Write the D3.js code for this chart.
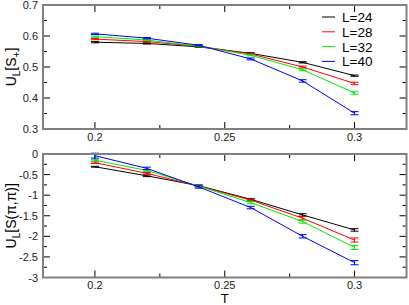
<!DOCTYPE html>
<html><head><meta charset="utf-8">
<script src="https://cdn.jsdelivr.net/npm/d3@7"></script>
<style>body{margin:0;background:#fff}svg{display:block}text{font-family:Arial,"Liberation Sans",sans-serif}</style>
</head><body><svg id="c" width="409" height="305"></svg>
<script>
const temps = [0.2, 0.22, 0.24, 0.26, 0.28, 0.3];
const seriesNames = ["L=24", "L=28", "L=32", "L=40"];
const seriesColors = ["#000000", "#ff0000", "#00ee00", "#0000ff"];
// top panel U_L[S_+]
const topVals = [
  [0.580, 0.576, 0.565, 0.544, 0.515, 0.472],
  [0.590, 0.582, 0.567, 0.542, 0.500, 0.447],
  [0.598, 0.587, 0.567, 0.538, 0.491, 0.416],
  [0.607, 0.593, 0.570, 0.526, 0.455, 0.351]
];
const topErr = [
  [0.002, 0.002, 0.002, 0.002, 0.002, 0.002],
  [0.002, 0.002, 0.002, 0.002, 0.003, 0.004],
  [0.002, 0.002, 0.002, 0.002, 0.003, 0.004],
  [0.002, 0.002, 0.002, 0.003, 0.004, 0.005]
];
// bottom panel U_L[S(pi,pi)]
const botVals = [
  [-0.31, -0.53, -0.77, -1.10, -1.48, -1.845],
  [-0.21, -0.47, -0.78, -1.12, -1.56, -2.09],
  [-0.15, -0.40, -0.78, -1.18, -1.64, -2.27],
  [-0.04, -0.35, -0.80, -1.30, -2.00, -2.64]
];
const botErr = [
  [0.01, 0.02, 0.02, 0.02, 0.03, 0.03],
  [0.02, 0.02, 0.02, 0.03, 0.04, 0.05],
  [0.02, 0.02, 0.02, 0.03, 0.04, 0.05],
  [0.06, 0.03, 0.03, 0.03, 0.04, 0.05]
];
const xMajor = [0.2, 0.25, 0.3];
const xMinor = [0.225, 0.275];
const topMajor = [0.3, 0.4, 0.5, 0.6, 0.7];
const topMinor = [0.35, 0.45, 0.55, 0.65];
const botMajor = [-3, -2.5, -2, -1.5, -1, -0.5, 0];
const botMinor = [-2.75, -2.25, -1.75, -1.25, -0.75, -0.25];

const svg = d3.select("#c");
const X0 = 43, X1 = 406.5;
const x = d3.scaleLinear().domain([0.18, 0.32]).range([X0, X1]);

function panel(y0, y1, ydom, vals, errs, major, minor, fmt, labelParts) {
  const y = d3.scaleLinear().domain(ydom).range([y1, y0]);
  const g = svg.append("g");
  const tk = g.append("g").attr("stroke", "#000").attr("stroke-width", 1);
  xMajor.forEach(t => {
    tk.append("line").attr("x1", x(t)).attr("x2", x(t)).attr("y1", y1).attr("y2", y1 - 7);
    tk.append("line").attr("x1", x(t)).attr("x2", x(t)).attr("y1", y0).attr("y2", y0 + 7);
  });
  xMinor.forEach(t => {
    tk.append("line").attr("x1", x(t)).attr("x2", x(t)).attr("y1", y1).attr("y2", y1 - 4);
    tk.append("line").attr("x1", x(t)).attr("x2", x(t)).attr("y1", y0).attr("y2", y0 + 4);
  });
  major.forEach(v => {
    tk.append("line").attr("x1", X0).attr("x2", X0 + 7).attr("y1", y(v)).attr("y2", y(v));
    tk.append("line").attr("x1", X1).attr("x2", X1 - 7).attr("y1", y(v)).attr("y2", y(v));
  });
  minor.forEach(v => {
    tk.append("line").attr("x1", X0).attr("x2", X0 + 4).attr("y1", y(v)).attr("y2", y(v));
    tk.append("line").attr("x1", X1).attr("x2", X1 - 4).attr("y1", y(v)).attr("y2", y(v));
  });
  vals.forEach((s, i) => {
    const c = seriesColors[i];
    g.append("path").datum(s.map((v, j) => [temps[j], v]))
      .attr("fill", "none").attr("stroke", c).attr("stroke-width", 1)
      .attr("d", d3.line().x(d => x(d[0])).y(d => y(d[1])));
    s.forEach((v, j) => {
      const e = errs[i][j], cx = x(temps[j]);
      const eb = g.append("g").attr("stroke", c).attr("stroke-width", 1);
      eb.append("line").attr("x1", cx).attr("x2", cx).attr("y1", y(v - e)).attr("y2", y(v + e));
      eb.append("line").attr("x1", cx - 4).attr("x2", cx + 4).attr("y1", y(v - e)).attr("y2", y(v - e));
      eb.append("line").attr("x1", cx - 4).attr("x2", cx + 4).attr("y1", y(v + e)).attr("y2", y(v + e));
    });
  });
  g.append("rect").attr("x", X0).attr("y", y0).attr("width", X1 - X0).attr("height", y1 - y0)
    .attr("fill", "none").attr("stroke", "#808080").attr("stroke-width", 2);
  major.forEach(v => {
    g.append("text").attr("x", 38).attr("y", y(v) + 4).attr("text-anchor", "end")
      .attr("font-size", 11).attr("fill", "#222").text(fmt(v));
  });
  xMajor.forEach(t => {
    g.append("text").attr("x", x(t)).attr("y", y1 + 11.5).attr("text-anchor", "middle")
      .attr("font-size", 11).attr("fill", "#222").text(String(t));
  });
  const lab = g.append("text").attr("transform", `translate(16,${(y0 + y1) / 2}) rotate(-90)`)
    .attr("text-anchor", "middle").attr("font-size", 14).attr("fill", "#000");
  labelParts.forEach(p => {
    const ts = lab.append("tspan").text(p.t);
    if (p.sub) ts.attr("font-size", 10).attr("dy", 4);
    if (p.up) ts.attr("dy", -4);
  });
  return y;
}

panel(5, 129, [0.3, 0.7], topVals, topErr, topMajor, topMinor, v => d3.format(".1f")(v),
  [{t: "U"}, {t: "L", sub: true}, {t: "[S", up: true}, {t: "+", sub: true}, {t: "]", up: true}]);
panel(154, 277.5, [-3, 0], botVals, botErr, botMajor, botMinor, v => (v === 0 ? "0" : String(v)),
  [{t: "U"}, {t: "L", sub: true}, {t: "[S(\u03c0,\u03c0)]", up: true}]);

svg.append("text").attr("x", x(0.25)).attr("y", 302.5).attr("text-anchor", "middle")
  .attr("font-size", 13).attr("fill", "#000").text("T");

seriesNames.forEach((n, i) => {
  const ly = 17 + i * 14.8;
  svg.append("line").attr("x1", 322).attr("x2", 335).attr("y1", ly).attr("y2", ly)
    .attr("stroke", seriesColors[i]).attr("stroke-width", 1);
  svg.append("text").attr("x", 342).attr("y", ly + 5).attr("font-size", 13.5).attr("fill", "#000").text(n);
});
</script></body></html>
